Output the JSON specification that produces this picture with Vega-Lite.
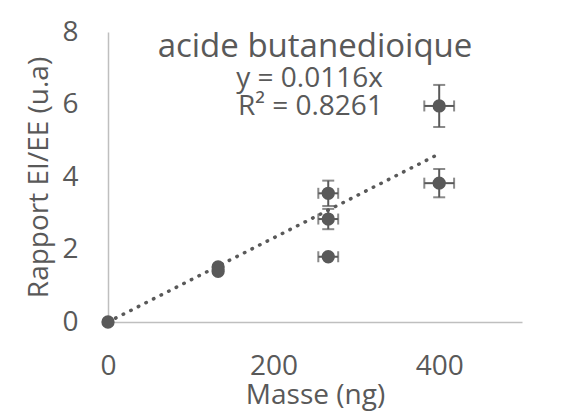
{
  "$schema": "https://vega.github.io/schema/vega-lite/v6.json",
  "autosize": {"type": "none"},
  "width": 414,
  "height": 290,
  "padding": {"left": 108, "top": 32, "right": 40, "bottom": 93},
  "background": "white",
  "title": {
    "text": "acide butanedioique",
    "font": "Open Sans",
    "fontSize": 33,
    "fontWeight": "normal",
    "color": "#595959",
    "anchor": "middle",
    "frame": "group",
    "baseline": "alphabetic",
    "offset": -72
  },
  "datasets": {
    "points": [
      {"masse": 0, "rapport": 0},
      {"masse": 133, "rapport": 1.52},
      {"masse": 133, "rapport": 1.40},
      {"masse": 266, "rapport": 3.55},
      {"masse": 266, "rapport": 2.84},
      {"masse": 266, "rapport": 1.80},
      {"masse": 400, "rapport": 5.96},
      {"masse": 400, "rapport": 3.83}
    ],
    "xerr": [
      {"rapport": 3.55, "masse_lo": 254, "masse_hi": 278},
      {"rapport": 2.84, "masse_lo": 254, "masse_hi": 278},
      {"rapport": 1.80, "masse_lo": 254, "masse_hi": 278},
      {"rapport": 5.96, "masse_lo": 382, "masse_hi": 418},
      {"rapport": 3.83, "masse_lo": 382, "masse_hi": 418}
    ],
    "yerr": [
      {"masse": 266, "rapport_lo": 3.20, "rapport_hi": 3.90},
      {"masse": 266, "rapport_lo": 2.56, "rapport_hi": 3.12},
      {"masse": 400, "rapport_lo": 5.38, "rapport_hi": 6.54},
      {"masse": 400, "rapport_lo": 3.44, "rapport_hi": 4.22}
    ],
    "trend": [
      {"masse": 0, "rapport": 0},
      {"masse": 400, "rapport": 4.64}
    ]
  },
  "layer": [
    {
      "data": {"name": "trend"},
      "mark": {"type": "line", "color": "#595959", "strokeWidth": 3.5, "strokeDash": [0.5, 8], "strokeCap": "round"},
      "encoding": {
        "x": {"field": "masse", "type": "quantitative", "title": "Masse (ng)",
          "scale": {"domain": [0, 500], "nice": false},
          "axis": {"values": [0, 200, 400], "labelPadding": 30, "titlePadding": 1, "labelFlush": false}},
        "y": {"field": "rapport", "type": "quantitative", "title": "Rapport EI/EE (u.a)",
          "scale": {"domain": [0, 8], "nice": false},
          "axis": {"values": [0, 2, 4, 6, 8], "labelPadding": 30, "titlePadding": 8}}
      }
    },
    {
      "data": {"name": "xerr"},
      "mark": {"type": "errorbar", "ticks": {"size": 11, "thickness": 2, "color": "#595959"}, "rule": {"strokeWidth": 2, "color": "#595959"}},
      "encoding": {
        "x": {"field": "masse_lo", "type": "quantitative", "title": "Masse (ng)"},
        "x2": {"field": "masse_hi"},
        "y": {"field": "rapport", "type": "quantitative", "title": "Rapport EI/EE (u.a)"}
      }
    },
    {
      "data": {"name": "yerr"},
      "mark": {"type": "errorbar", "ticks": {"size": 12, "thickness": 2, "color": "#595959"}, "rule": {"strokeWidth": 2, "color": "#595959"}},
      "encoding": {
        "y": {"field": "rapport_lo", "type": "quantitative", "title": "Rapport EI/EE (u.a)"},
        "y2": {"field": "rapport_hi"},
        "x": {"field": "masse", "type": "quantitative", "title": "Masse (ng)"}
      }
    },
    {
      "data": {"name": "points"},
      "mark": {"type": "point", "shape": "circle", "filled": true, "size": 177, "color": "#595959", "opacity": 1},
      "encoding": {
        "x": {"field": "masse", "type": "quantitative", "title": "Masse (ng)"},
        "y": {"field": "rapport", "type": "quantitative", "title": "Rapport EI/EE (u.a)"}
      }
    },
    {
      "data": {"values": [{}]},
      "mark": {"type": "text", "align": "right", "baseline": "alphabetic", "font": "Open Sans", "fontSize": 28, "lineHeight": 28, "color": "#595959"},
      "encoding": {
        "x": {"datum": 332, "type": "quantitative"},
        "y": {"datum": 6.48, "type": "quantitative"},
        "text": {"value": ["y = 0.0116x", "R² = 0.8261"]}
      }
    }
  ],
  "config": {
    "view": {"stroke": null},
    "font": "Open Sans",
    "axis": {
      "grid": false,
      "ticks": false,
      "domainColor": "#bfbfbf",
      "domainWidth": 1.5,
      "labelFont": "Open Sans",
      "labelFontSize": 28,
      "labelColor": "#595959",
      "titleFont": "Open Sans",
      "titleFontSize": 28,
      "titleFontWeight": "normal",
      "titleColor": "#595959"
    }
  }
}
